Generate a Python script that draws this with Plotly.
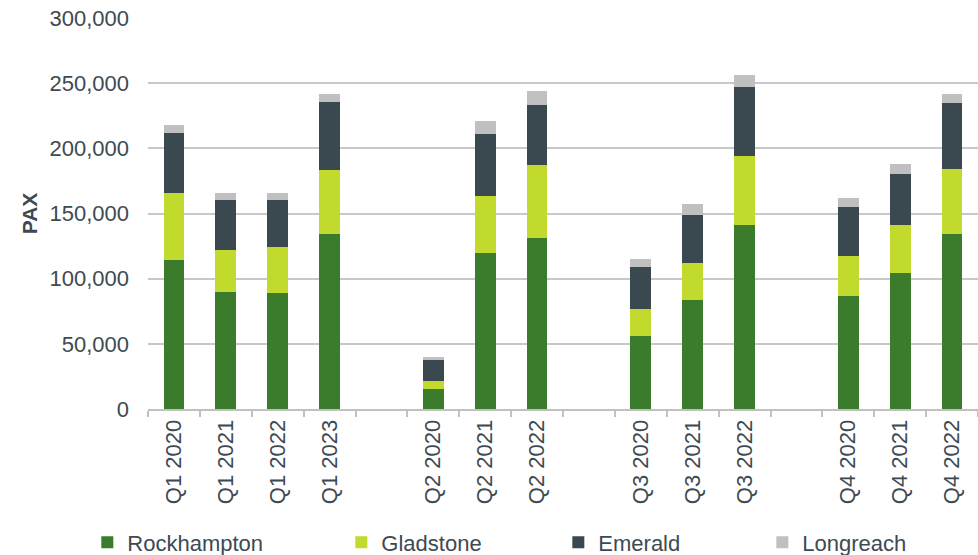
import plotly.graph_objects as go

categories = ["Q1 2020", "Q1 2021", "Q1 2022", "Q1 2023", " ",
              "Q2 2020", "Q2 2021", "Q2 2022", "  ",
              "Q3 2020", "Q3 2021", "Q3 2022", "   ",
              "Q4 2020", "Q4 2021", "Q4 2022"]

rockhampton = [114500, 90000, 89000, 134500, None,
               15500, 119500, 131500, None,
               56000, 84000, 141000, None,
               87000, 104500, 134500]
gladstone = [51000, 32000, 35000, 49000, None,
             6200, 44200, 55700, None,
             20900, 28100, 52800, None,
             30400, 36500, 50000]
emerald = [46200, 38000, 36000, 51900, None,
           16000, 47200, 46400, None,
           32400, 37000, 52900, None,
           37700, 39500, 50100]
longreach = [5900, 6100, 5600, 6300, None,
             2300, 9900, 10700, None,
             5900, 7900, 9900, None,
             6900, 7400, 6900]

series = [
    ("Rockhampton", rockhampton, "#3a7c2c", 209),
    ("Gladstone", gladstone, "#c2d92e", 172),
    ("Emerald", emerald, "#3a4950", 159),
    ("Longreach", longreach, "#c0c0c0", None),
]

TEXT = "#3d4a52"
FONT = "Arial, Liberation Sans, sans-serif"

fig = go.Figure()
for name, vals, color, lw in series:
    kw = {}
    if lw:
        kw["legendwidth"] = lw
    fig.add_trace(go.Bar(
        name=name, x=categories, y=vals,
        marker=dict(color=color, line=dict(width=0)),
        **kw
    ))

fig.update_layout(
    barmode="stack",
    bargap=0.6,
    width=978, height=555,
    margin=dict(l=148, r=0, t=17.5, b=145.7, pad=0, autoexpand=False),
    plot_bgcolor="white", paper_bgcolor="white",
    font=dict(family=FONT, size=22, color=TEXT),
    showlegend=True,
    legend=dict(orientation="h", x=-0.0731, xanchor="left",
                y=-0.341, yanchor="middle",
                font=dict(size=22, color=TEXT), traceorder="normal",
                bgcolor="rgba(0,0,0,0)"),
    xaxis=dict(
        type="category", categoryorder="array", categoryarray=categories,
        tickson="boundaries", ticks="outside", ticklen=6, tickcolor="#c0c0c0",
        tickwidth=2, tickangle=-90, showline=True, linecolor="#c0c0c0",
        linewidth=2, showgrid=False, tickfont=dict(size=22, color=TEXT),
        range=[-0.5, 15.5], automargin=False,
    ),
    yaxis=dict(
        range=[0, 300000], tickvals=[0, 50000, 100000, 150000, 200000, 250000, 300000],
        tickformat=",", showgrid=True, gridcolor="#c8c8c8", gridwidth=2,
        zeroline=False, ticks="", ticklabelstandoff=18, automargin=False,
        tickfont=dict(size=22, color=TEXT),
        title=dict(text="<b>PAX</b>", font=dict(size=21, color=TEXT), standoff=6),
    ),
)

fig.write_html("out.html")
